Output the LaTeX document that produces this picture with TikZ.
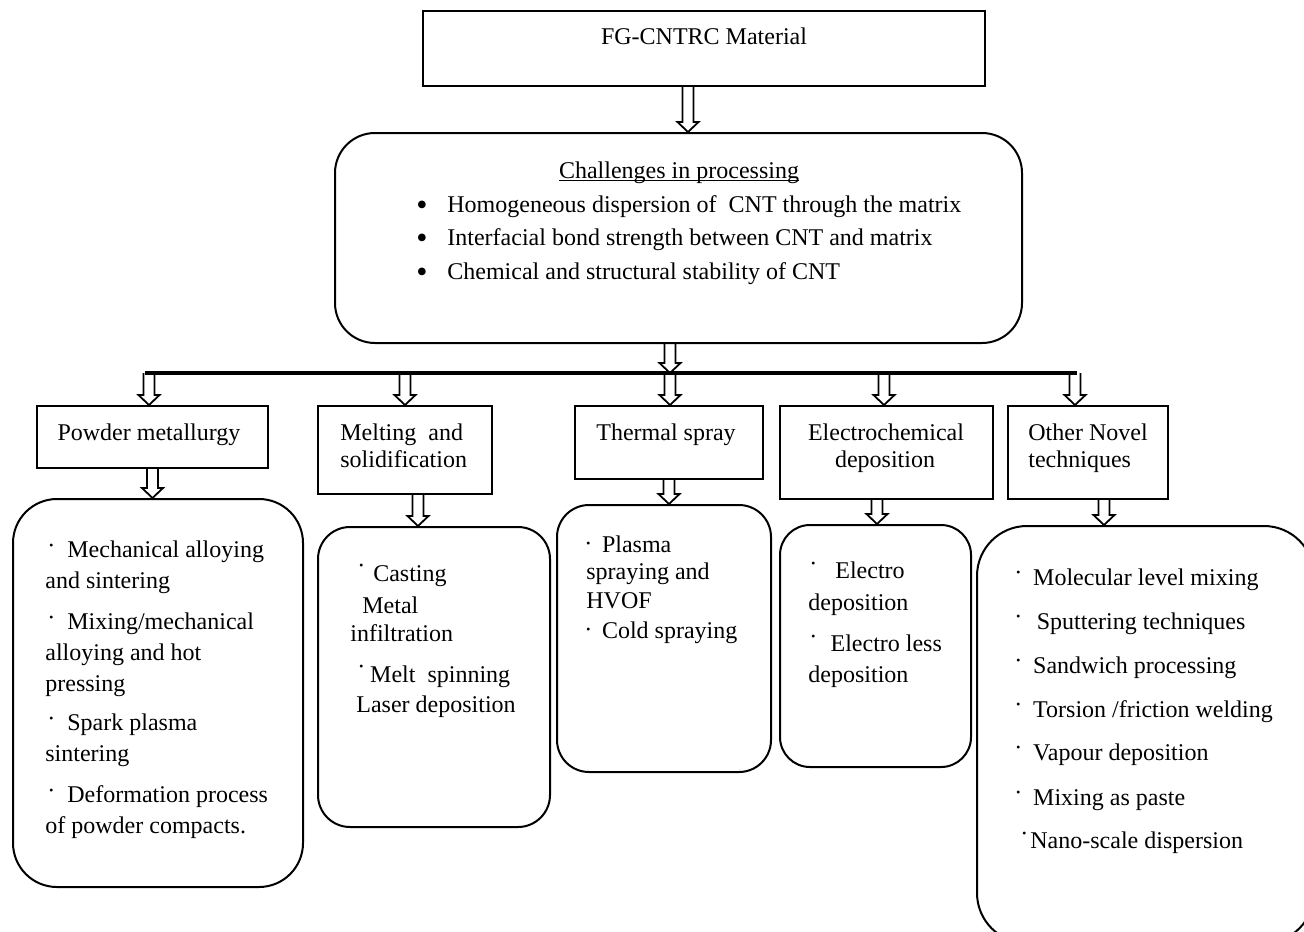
\documentclass[tikz,border=0pt]{standalone}
\usepackage{fontspec}
\setmainfont{Liberation Serif}
\usetikzlibrary{calc}
\newcommand{\mybul}[2][.5em]{\raisebox{#2}{·}\hspace{#1}}
\newcommand{\bigbul}{\makebox[15.5pt][l]{\raisebox{-1.5pt}{\fontsize{16pt}{16pt}\selectfont\textbullet}}}

\begin{document}
\begin{tikzpicture}[x=0.5pt,y=-0.5pt,
		box/.style={draw, rectangle, line width=1pt, inner sep=0pt},
		rbox/.style={draw, rectangle, rounded corners=#1, line width=1pt, inner sep=0pt},
		txt/.style={inner sep=0pt, anchor=base west, font=\fontsize{12pt}{14.5pt}\selectfont},
		ctxt/.style={txt, anchor=base},
		bar/.style={line width=1.8pt},
		hollow/.style={line width=0.9pt, to path={let \p1=(\tikztostart), \p2=(\tikztotarget) in
				(\x1-2.75pt,\y1) -- (\x1-2.75pt,\y2+5pt) -- (\x1-5.25pt,\y2+5pt) -- (\x1,\y2)
				-- (\x1+5.25pt,\y2+5pt) -- (\x1+2.75pt,\y2+5pt) -- (\x1+2.75pt,\y1)}}]
			\useasboundingbox (0,0) rectangle (1304,931);
			\clip (0,0) rectangle (1304,931);
			%top of the chart
			\node[box, minimum width=281pt, minimum height=37.5pt] (top) at (704,48.5) {};
			\node[ctxt] (topT) at (704,45) {FG-CNTRC Material};
			\node[rbox=20pt, minimum width=343.5pt, minimum height=105pt] (chal) at (678.5,238) {};
			\node[ctxt] (chalT) at (679,178) {\underline{\raisebox{0pt}[\height][0pt]{Challenges in processing}}};
			\node[txt] (ch1) at (416,212) {\bigbul Homogeneous dispersion of\ \ CNT through the matrix};
			\node[txt] (ch2) at (416,245) {\bigbul Interfacial bond strength between CNT and matrix};
			\node[txt] (ch3) at (416,279) {\bigbul Chemical and structural stability of CNT};
			%processing routes
			\node[box, minimum width=115.5pt, minimum height=31pt] (pm) at (152.5,437) {};
			\node[ctxt] (pmT) at (149,440) {Powder metallurgy};
			\node[box, minimum width=87pt, minimum height=44pt] (melt) at (405,450) {};
			\node[txt] (meltT1) at (340,440) {Melting\ \ and};
			\node[txt] (meltT2) at (340,467) {solidification};
			\node[box, minimum width=94pt, minimum height=36.5pt] (therm) at (669,442.5) {};
			\node[ctxt] (thermT) at (666,440) {Thermal spray};
			\node[box, minimum width=106.5pt, minimum height=46.5pt] (elec) at (886.5,452.5) {};
			\node[ctxt] (elecT1) at (886,440) {Electrochemical};
			\node[ctxt] (elecT2) at (885,467) {deposition};
			\node[box, minimum width=80pt, minimum height=46.5pt] (other) at (1088,452.5) {};
			\node[txt] (otherT1) at (1028,440) {Other Novel};
			\node[txt] (otherT2) at (1028,467) {techniques};
			%lists of methods
			\node[rbox=22pt, minimum width=145pt, minimum height=194pt] (pml) at (158,693) {};
			\node[txt] (pml1) at (47,557) {\mybul{2pt}Mechanical alloying};
			\node[txt] (pml2) at (45,588) {and sintering};
			\node[txt] (pml3) at (47,629) {\mybul{2pt}Mixing/mechanical};
			\node[txt] (pml4) at (45,660) {alloying and hot};
			\node[txt] (pml5) at (45,691) {pressing};
			\node[txt] (pml6) at (47,730) {\mybul{2pt}Spark plasma};
			\node[txt] (pml7) at (45,761) {sintering};
			\node[txt] (pml8) at (47,802) {\mybul{2pt}Deformation process};
			\node[txt] (pml9) at (45,833) {of powder compacts.};
			\node[rbox=16pt, minimum width=116pt, minimum height=150pt] (meltl) at (434,677) {};
			\node[txt] (meltl1) at (357,581) {\mybul[.33em]{4pt}Casting};
			\node[txt] (meltl2) at (362,613) {Metal};
			\node[txt] (meltl3) at (350,641) {infiltration};
			\node[txt] (meltl4) at (357,682) {\mybul[.2em]{4pt}Melt\ \ spinning};
			\node[txt] (meltl5) at (356,712) {Laser deposition};
			\node[rbox=16pt, minimum width=107pt, minimum height=133.5pt] (therml) at (664,638.5) {};
			\node[txt] (therml1) at (584,552) {\mybul[.4em]{0.5pt}Plasma};
			\node[txt] (therml2) at (586,579) {spraying and};
			\node[txt] (therml3) at (586,608) {HVOF};
			\node[txt] (therml4) at (584,638) {\mybul[.4em]{0.5pt}Cold spraying};
			\node[rbox=15pt, minimum width=95.5pt, minimum height=121pt] (elecl) at (875.5,646) {};
			\node[txt] (elecl1) at (809,578) {\mybul[.75em]{3.5pt}Electro};
			\node[txt] (elecl2) at (808,610) {deposition};
			\node[txt] (elecl3) at (809,651) {\mybul[.55em]{3.5pt}Electro less};
			\node[txt] (elecl4) at (808,682) {deposition};
			\node[rbox=25pt, minimum width=168.5pt, minimum height=208.5pt] (otherl) at (1145.5,734.5) {};
			\node[txt] (otherl1) at (1014,585) {\mybul[.45em]{2.5pt}Molecular level mixing};
			\node[txt] (otherl2) at (1014,629) {\mybul[.6em]{2.5pt}Sputtering techniques};
			\node[txt] (otherl3) at (1014,673) {\mybul[.45em]{2.5pt}Sandwich processing};
			\node[txt] (otherl4) at (1014,717) {\mybul[.45em]{2.5pt}Torsion /friction welding};
			\node[txt] (otherl5) at (1014,760) {\mybul[.45em]{2.5pt}Vapour deposition};
			\node[txt] (otherl6) at (1014,805) {\mybul[.45em]{2.5pt}Mixing as paste};
			\node[txt] (otherl7) at (1020,848) {\mybul[1pt]{3.5pt}Nano-scale dispersion};
			%bar and arrows
			\coordinate (b1) at (149,373);
			\coordinate (b2) at (405,373);
			\coordinate (b3) at (670,373);
			\coordinate (b4) at (884,373);
			\coordinate (b5) at (1075,373);
			\draw[bar] ([xshift=-2pt]b1) -- ([xshift=1pt]b5);
			\draw[hollow] ($(top.south)+(-16,0)$) to (chal.north);
			\draw[hollow] (chal.south -| b3) to (b3);
			\draw[hollow] (b1) to (pm.north);
			\draw[hollow] (b2) to (melt.north);
			\draw[hollow] (b3) to (therm.north);
			\draw[hollow] (b4) to (elec.north);
			\draw[hollow] (b5) to (other.north);
			\draw[hollow] (pm.south) to (pml.north);
			\draw[hollow] ($(melt.south)+(13,0)$) to (meltl.north);
			\draw[hollow] (therm.south) to (therml.north);
			\draw[hollow] ($(elec.south)+(-9.5,0)$) to (elecl.north);
			\draw[hollow] ($(other.south)+(16,0)$) to (otherl.north);
		\end{tikzpicture}
\end{document}
